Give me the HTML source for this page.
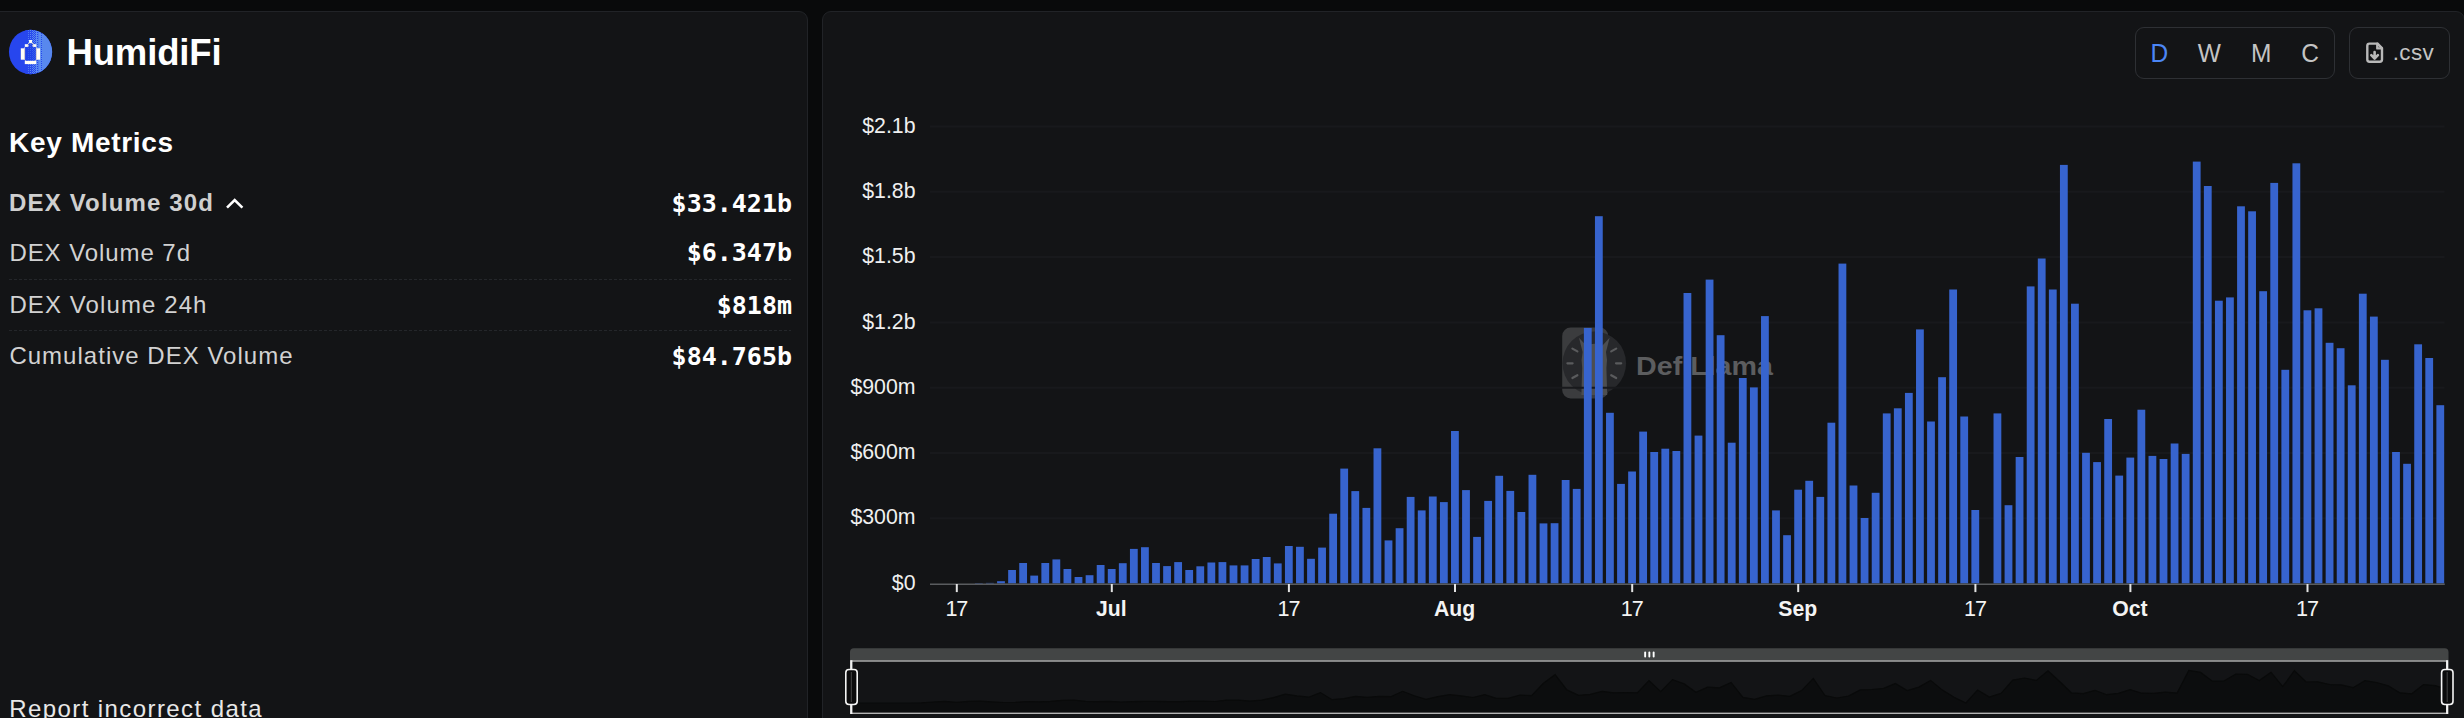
<!DOCTYPE html>
<html lang="en">
<head>
<meta charset="utf-8">
<title>HumidiFi - DefiLlama</title>
<style>
*{box-sizing:border-box;margin:0;padding:0}
html,body{width:2464px;height:718px;overflow:hidden;background:#090a0b;}
body{position:relative;font-family:"Liberation Sans",sans-serif;color:#fff;-webkit-font-smoothing:antialiased}
.panel{position:absolute;background:#131416;border:1.6px solid #212327;border-radius:9px}
#left{left:-20px;top:10.7px;width:828px;height:740px}
#right{left:821.8px;top:10.7px;width:1643px;height:740px}
.abs{position:absolute;white-space:nowrap;line-height:1}
#title{left:66.4px;top:35px;font-size:36.5px;font-weight:bold;color:#fff;letter-spacing:-0.12px}
#km{left:9.1px;top:128.6px;font-size:28px;font-weight:bold;color:#fff;letter-spacing:0.68px}
.lbl{left:9.4px;font-size:24px;color:#d2d2d2;letter-spacing:1px}
.lbl.b{font-weight:bold;color:#cfcfcf}
.val{right:1672px;font-family:"DejaVu Sans Mono","Liberation Mono",monospace;font-weight:bold;font-size:25px;color:#fff}
.sep{position:absolute;left:9px;width:782px;height:1.3px;background:repeating-linear-gradient(to right,#24262a 0,#24262a 3px,transparent 3px,transparent 5px)}
#report{left:9.3px;top:697.2px;font-size:24px;color:#e8e8e8;letter-spacing:1.41px}
#grp{position:absolute;left:2135px;top:27px;width:200px;height:52px;border:1.5px solid #2e3034;border-radius:9px}
#csv{position:absolute;left:2349px;top:27px;width:101px;height:52px;border:1.5px solid #2e3034;border-radius:9px}
.g{font-size:24.5px;color:#c4c4c4;top:41.4px;transform:translateX(-50%) scaleY(1.07)}
svg{position:absolute;left:0;top:0}
</style>
</head>
<body>
<div class="panel" id="left"></div>
<div class="panel" id="right"></div>

<!-- logo -->
<svg width="80" height="90" viewBox="0 0 80 90">
  <defs>
    <clipPath id="lc"><ellipse cx="30.55" cy="52" rx="21.6" ry="22.2"/></clipPath>
    <pattern id="d1" width="4" height="2" patternUnits="userSpaceOnUse"><rect width="4" height="2" fill="#2746ee"/><rect width="1" height="1" fill="#5a8cf0"/></pattern>
    <pattern id="d2" width="2" height="2" patternUnits="userSpaceOnUse"><rect width="2" height="2" fill="#2746ee"/><rect width="1" height="1" fill="#5a8cf0"/></pattern>
    <pattern id="d3" width="2" height="2" patternUnits="userSpaceOnUse"><rect width="2" height="2" fill="#2746ee"/><rect width="1" height="1" fill="#5a8cf0"/><rect x="1" y="1" width="1" height="1" fill="#5a8cf0"/></pattern>
    <pattern id="d4" width="2" height="2" patternUnits="userSpaceOnUse"><rect width="2" height="2" fill="#5a8cf0"/><rect x="1" width="1" height="1" fill="#2746ee"/></pattern>
    <pattern id="d5" width="4" height="2" patternUnits="userSpaceOnUse"><rect width="4" height="2" fill="#5a8cf0"/><rect x="1" y="1" width="1" height="1" fill="#2746ee"/></pattern>
  </defs>
  <ellipse cx="30.55" cy="52" rx="21.6" ry="22.2" fill="#2746ee"/>
  <g clip-path="url(#lc)">
    <rect x="25" y="28" width="3.4" height="48" fill="url(#d1)"/>
    <rect x="28.4" y="28" width="3.4" height="48" fill="url(#d2)"/>
    <rect x="31.8" y="28" width="3.4" height="48" fill="url(#d3)"/>
    <rect x="35.2" y="28" width="3.4" height="48" fill="url(#d4)"/>
    <rect x="38.6" y="28" width="3.4" height="48" fill="url(#d5)"/>
    <rect x="42" y="28" width="12" height="48" fill="#5888ee"/>
  </g>
  <path d="M24.2 47.5 L30.5 41.5 L36.8 47.5 V60.8 H24.2 Z" fill="#1c3ce6" opacity="0.55"/>
  <g fill="#fffdf8">
    <rect x="29.05" y="40" width="3" height="3.2"/>
    <rect x="24.8" y="44.2" width="3.1" height="2.7"/>
    <rect x="33.2" y="44.2" width="3.1" height="2.7"/>
    <rect x="20.8" y="48.3" width="3.3" height="11.4"/>
    <rect x="36.8" y="48.3" width="3.3" height="11.4"/>
    <rect x="24.8" y="60.8" width="11.4" height="3.3"/>
  </g>
  <path d="M29.6 42.6 L27 45 M31.6 42.6 L34.2 45 M24.6 47.4 V59.8 L25.6 60.6 M36.4 47.4 V59.8 L35.4 60.6 M27.6 46.6 L29 45.4 M33.5 46.6 L32.1 45.4" stroke="#f4e6cc" stroke-width="1" fill="none" opacity="0.9"/>
</svg>
<div class="abs" id="title">HumidiFi</div>
<div class="abs" id="km">Key Metrics</div>

<div class="abs lbl b" style="top:191.3px;letter-spacing:1.15px;left:9.1px">DEX Volume 30d</div>
<svg width="260" height="220" viewBox="0 0 260 220"><path d="M227 207.6 L234.7 200.1 L242.4 207.6" fill="none" stroke="#fff" stroke-width="2.6"/></svg>
<div class="abs val" style="top:190.8px">$33.421b</div>

<div class="abs lbl" style="top:240.9px;letter-spacing:0.93px">DEX Volume 7d</div>
<div class="abs val" style="top:240.2px">$6.347b</div>
<div class="sep" style="top:278.9px"></div>
<div class="abs lbl" style="top:292.8px;letter-spacing:1.1px">DEX Volume 24h</div>
<div class="abs val" style="top:292.5px">$818m</div>
<div class="sep" style="top:329.8px"></div>
<div class="abs lbl" style="top:344px;letter-spacing:1.02px">Cumulative DEX Volume</div>
<div class="abs val" style="top:343.6px">$84.765b</div>

<div class="abs" id="report">Report incorrect data</div>

<!-- chart controls -->
<div id="grp"></div>
<div id="csv"></div>
<div class="abs g" style="left:2159.4px;color:#4b86f5">D</div>
<div class="abs g" style="left:2209.2px">W</div>
<div class="abs g" style="left:2261.1px">M</div>
<div class="abs g" style="left:2310.1px">C</div>
<svg width="2464" height="100" viewBox="0 0 2464 100">
  <g fill="none" stroke="#b9b9b9" stroke-width="2.4" stroke-linejoin="round" stroke-linecap="round">
    <path d="M2377.5 43.6 H2369.5 Q2367.3 43.6 2367.3 45.8 V59.6 Q2367.3 61.8 2369.5 61.8 H2379.8 Q2382 61.8 2382 59.6 V48.2 Z"/>
    <path d="M2377.3 43.8 V48.4 H2381.8"/>
    <path d="M2374.6 52 V58.2 M2371.3 55.2 L2374.6 58.5 L2377.9 55.2" stroke-width="2.6"/>
  </g>
</svg>
<div class="abs" style="left:2392.8px;top:42.1px;font-size:22.4px;color:#c4c4c4;letter-spacing:0.35px">.csv</div>

<!-- chart -->
<svg width="2464" height="718" viewBox="0 0 2464 718" font-family="'Liberation Sans',sans-serif">
  <!-- watermark -->
  <g opacity="1">
    <rect x="1562.2" y="327.6" width="46" height="70.8" rx="8.5" fill="#3b3c3e"/>
    <circle cx="1594.3" cy="363.3" r="31.8" fill="#27282b"/>
    <path d="M1579 337.8 L1586.8 346.2 Q1594.3 341.5 1601.8 346.2 L1609.6 337.8 L1606 352 Q1607.8 360 1606.4 368 L1607.2 395 H1581.4 L1582.2 368 Q1580.8 360 1582.6 352 Z" fill="#4d4e50"/>
    <g stroke="#5a5b5d" stroke-width="2.2" stroke-linecap="round">
      <line x1="1567.4" y1="363.3" x2="1572.6" y2="363.3"/>
      <line x1="1616" y1="363.3" x2="1621.2" y2="363.3"/>
      <line x1="1572.4" y1="348.6" x2="1577.4" y2="351.4"/>
      <line x1="1616.2" y1="348.6" x2="1611.2" y2="351.4"/>
      <line x1="1572.4" y1="378" x2="1577.4" y2="375.2"/>
      <line x1="1616.2" y1="378" x2="1611.2" y2="375.2"/>
    </g>
    <text x="1636" y="374.6" font-size="26.5" font-weight="bold" fill="#5c5d5f" textLength="137" lengthAdjust="spacingAndGlyphs">DefiLlama</text>
  </g>
  <g stroke="#18191c" stroke-width="2">
<line x1="930" x2="2444.5" y1="518.3" y2="518.3"/>
<line x1="930" x2="2444.5" y1="453.0" y2="453.0"/>
<line x1="930" x2="2444.5" y1="387.7" y2="387.7"/>
<line x1="930" x2="2444.5" y1="322.4" y2="322.4"/>
<line x1="930" x2="2444.5" y1="257.1" y2="257.1"/>
<line x1="930" x2="2444.5" y1="191.8" y2="191.8"/>
<line x1="930" x2="2444.5" y1="126.5" y2="126.5"/>
  </g>
  <g fill="#3764ce" shape-rendering="auto">
<rect x="974.94" y="583.0" width="7.8" height="0.4"/>
<rect x="986.01" y="582.9" width="7.8" height="0.5"/>
<rect x="997.09" y="581.2" width="7.8" height="2.2"/>
<rect x="1008.16" y="570.0" width="7.8" height="13.4"/>
<rect x="1019.23" y="563.0" width="7.8" height="20.4"/>
<rect x="1030.30" y="575.6" width="7.8" height="7.8"/>
<rect x="1041.37" y="563.0" width="7.8" height="20.4"/>
<rect x="1052.44" y="559.4" width="7.8" height="24.0"/>
<rect x="1063.51" y="569.0" width="7.8" height="14.4"/>
<rect x="1074.59" y="577.0" width="7.8" height="6.4"/>
<rect x="1085.66" y="575.2" width="7.8" height="8.2"/>
<rect x="1096.73" y="565.0" width="7.8" height="18.4"/>
<rect x="1107.80" y="569.0" width="7.8" height="14.4"/>
<rect x="1118.87" y="563.2" width="7.8" height="20.2"/>
<rect x="1129.94" y="548.9" width="7.8" height="34.5"/>
<rect x="1141.02" y="547.2" width="7.8" height="36.2"/>
<rect x="1152.09" y="563.0" width="7.8" height="20.4"/>
<rect x="1163.16" y="566.1" width="7.8" height="17.3"/>
<rect x="1174.23" y="562.1" width="7.8" height="21.3"/>
<rect x="1185.30" y="570.0" width="7.8" height="13.4"/>
<rect x="1196.37" y="566.3" width="7.8" height="17.1"/>
<rect x="1207.44" y="562.5" width="7.8" height="20.9"/>
<rect x="1218.52" y="562.1" width="7.8" height="21.3"/>
<rect x="1229.59" y="565.4" width="7.8" height="18.0"/>
<rect x="1240.66" y="565.4" width="7.8" height="18.0"/>
<rect x="1251.73" y="559.0" width="7.8" height="24.4"/>
<rect x="1262.80" y="557.0" width="7.8" height="26.4"/>
<rect x="1273.87" y="563.4" width="7.8" height="20.0"/>
<rect x="1284.94" y="546.0" width="7.8" height="37.4"/>
<rect x="1296.02" y="546.8" width="7.8" height="36.6"/>
<rect x="1307.09" y="558.8" width="7.8" height="24.6"/>
<rect x="1318.16" y="547.6" width="7.8" height="35.8"/>
<rect x="1329.23" y="513.7" width="7.8" height="69.7"/>
<rect x="1340.30" y="468.6" width="7.8" height="114.8"/>
<rect x="1351.37" y="491.1" width="7.8" height="92.3"/>
<rect x="1362.45" y="507.9" width="7.8" height="75.5"/>
<rect x="1373.52" y="448.3" width="7.8" height="135.1"/>
<rect x="1384.59" y="540.4" width="7.8" height="43.0"/>
<rect x="1395.66" y="528.2" width="7.8" height="55.2"/>
<rect x="1406.73" y="496.9" width="7.8" height="86.5"/>
<rect x="1417.80" y="510.4" width="7.8" height="73.0"/>
<rect x="1428.87" y="496.5" width="7.8" height="86.9"/>
<rect x="1439.95" y="502.1" width="7.8" height="81.3"/>
<rect x="1451.02" y="431.0" width="7.8" height="152.4"/>
<rect x="1462.09" y="490.1" width="7.8" height="93.3"/>
<rect x="1473.16" y="536.9" width="7.8" height="46.5"/>
<rect x="1484.23" y="500.9" width="7.8" height="82.5"/>
<rect x="1495.30" y="475.8" width="7.8" height="107.6"/>
<rect x="1506.38" y="490.9" width="7.8" height="92.5"/>
<rect x="1517.45" y="512.0" width="7.8" height="71.4"/>
<rect x="1528.52" y="474.8" width="7.8" height="108.6"/>
<rect x="1539.59" y="523.4" width="7.8" height="60.0"/>
<rect x="1550.66" y="523.2" width="7.8" height="60.2"/>
<rect x="1561.73" y="480.0" width="7.8" height="103.4"/>
<rect x="1572.80" y="488.9" width="7.8" height="94.5"/>
<rect x="1583.88" y="327.9" width="7.8" height="255.5"/>
<rect x="1594.95" y="216.2" width="7.8" height="367.2"/>
<rect x="1606.02" y="412.8" width="7.8" height="170.6"/>
<rect x="1617.09" y="483.9" width="7.8" height="99.5"/>
<rect x="1628.16" y="471.5" width="7.8" height="111.9"/>
<rect x="1639.23" y="431.6" width="7.8" height="151.8"/>
<rect x="1650.30" y="452.0" width="7.8" height="131.4"/>
<rect x="1661.38" y="448.7" width="7.8" height="134.7"/>
<rect x="1672.45" y="451.0" width="7.8" height="132.4"/>
<rect x="1683.52" y="293.0" width="7.8" height="290.4"/>
<rect x="1694.59" y="435.6" width="7.8" height="147.8"/>
<rect x="1705.66" y="279.6" width="7.8" height="303.8"/>
<rect x="1716.73" y="335.2" width="7.8" height="248.2"/>
<rect x="1727.80" y="442.7" width="7.8" height="140.7"/>
<rect x="1738.88" y="378.0" width="7.8" height="205.4"/>
<rect x="1749.95" y="387.4" width="7.8" height="196.0"/>
<rect x="1761.02" y="316.1" width="7.8" height="267.3"/>
<rect x="1772.09" y="510.4" width="7.8" height="73.0"/>
<rect x="1783.16" y="535.2" width="7.8" height="48.2"/>
<rect x="1794.23" y="489.7" width="7.8" height="93.7"/>
<rect x="1805.31" y="480.8" width="7.8" height="102.6"/>
<rect x="1816.38" y="496.9" width="7.8" height="86.5"/>
<rect x="1827.45" y="422.7" width="7.8" height="160.7"/>
<rect x="1838.52" y="263.6" width="7.8" height="319.8"/>
<rect x="1849.59" y="485.5" width="7.8" height="97.9"/>
<rect x="1860.66" y="518.0" width="7.8" height="65.4"/>
<rect x="1871.73" y="492.8" width="7.8" height="90.6"/>
<rect x="1882.81" y="413.4" width="7.8" height="170.0"/>
<rect x="1893.88" y="408.3" width="7.8" height="175.1"/>
<rect x="1904.95" y="392.9" width="7.8" height="190.5"/>
<rect x="1916.02" y="329.4" width="7.8" height="254.0"/>
<rect x="1927.09" y="421.5" width="7.8" height="161.9"/>
<rect x="1938.16" y="377.2" width="7.8" height="206.2"/>
<rect x="1949.24" y="289.5" width="7.8" height="293.9"/>
<rect x="1960.31" y="416.5" width="7.8" height="166.9"/>
<rect x="1971.38" y="510.0" width="7.8" height="73.4"/>
<rect x="1993.52" y="413.4" width="7.8" height="170.0"/>
<rect x="2004.59" y="505.2" width="7.8" height="78.2"/>
<rect x="2015.66" y="457.0" width="7.8" height="126.4"/>
<rect x="2026.74" y="286.4" width="7.8" height="297.0"/>
<rect x="2037.81" y="258.5" width="7.8" height="324.9"/>
<rect x="2048.88" y="289.5" width="7.8" height="293.9"/>
<rect x="2059.95" y="164.9" width="7.8" height="418.5"/>
<rect x="2071.02" y="303.7" width="7.8" height="279.7"/>
<rect x="2082.09" y="452.8" width="7.8" height="130.6"/>
<rect x="2093.16" y="462.1" width="7.8" height="121.3"/>
<rect x="2104.24" y="419.0" width="7.8" height="164.4"/>
<rect x="2115.31" y="475.6" width="7.8" height="107.8"/>
<rect x="2126.38" y="457.6" width="7.8" height="125.8"/>
<rect x="2137.45" y="409.7" width="7.8" height="173.7"/>
<rect x="2148.52" y="455.9" width="7.8" height="127.5"/>
<rect x="2159.59" y="459.0" width="7.8" height="124.4"/>
<rect x="2170.66" y="443.5" width="7.8" height="139.9"/>
<rect x="2181.74" y="453.9" width="7.8" height="129.5"/>
<rect x="2192.81" y="161.6" width="7.8" height="421.8"/>
<rect x="2203.88" y="186.0" width="7.8" height="397.4"/>
<rect x="2214.95" y="300.7" width="7.8" height="282.7"/>
<rect x="2226.02" y="297.4" width="7.8" height="286.0"/>
<rect x="2237.09" y="206.3" width="7.8" height="377.1"/>
<rect x="2248.17" y="211.3" width="7.8" height="372.1"/>
<rect x="2259.24" y="291.2" width="7.8" height="292.2"/>
<rect x="2270.31" y="182.9" width="7.8" height="400.5"/>
<rect x="2281.38" y="369.8" width="7.8" height="213.6"/>
<rect x="2292.45" y="163.3" width="7.8" height="420.1"/>
<rect x="2303.52" y="310.3" width="7.8" height="273.1"/>
<rect x="2314.59" y="308.3" width="7.8" height="275.1"/>
<rect x="2325.67" y="342.8" width="7.8" height="240.6"/>
<rect x="2336.74" y="348.2" width="7.8" height="235.2"/>
<rect x="2347.81" y="385.3" width="7.8" height="198.1"/>
<rect x="2358.88" y="293.7" width="7.8" height="289.7"/>
<rect x="2369.95" y="316.6" width="7.8" height="266.8"/>
<rect x="2381.02" y="359.8" width="7.8" height="223.6"/>
<rect x="2392.09" y="452.0" width="7.8" height="131.4"/>
<rect x="2403.17" y="463.8" width="7.8" height="119.6"/>
<rect x="2414.24" y="344.3" width="7.8" height="239.1"/>
<rect x="2425.31" y="358.0" width="7.8" height="225.4"/>
<rect x="2436.38" y="405.2" width="7.8" height="178.2"/>
  </g>
  <line x1="930" x2="2444.8" y1="584.3" y2="584.3" stroke="#5a5c5f" stroke-width="1.4"/>
  <g stroke="#e3e3e3" stroke-width="2">
<line x1="956.8" x2="956.8" y1="584" y2="592.1"/>
<line x1="1111.8" x2="1111.8" y1="584" y2="592.1"/>
<line x1="1288.9" x2="1288.9" y1="584" y2="592.1"/>
<line x1="1455.0" x2="1455.0" y1="584" y2="592.1"/>
<line x1="1632.2" x2="1632.2" y1="584" y2="592.1"/>
<line x1="1798.2" x2="1798.2" y1="584" y2="592.1"/>
<line x1="1975.4" x2="1975.4" y1="584" y2="592.1"/>
<line x1="2130.4" x2="2130.4" y1="584" y2="592.1"/>
<line x1="2307.5" x2="2307.5" y1="584" y2="592.1"/>
  </g>
  <g font-size="21.3" fill="#f0f0f0">
<text x="915.5" y="589.7" text-anchor="end">$0</text>
<text x="915.5" y="524.4" text-anchor="end">$300m</text>
<text x="915.5" y="459.1" text-anchor="end">$600m</text>
<text x="915.5" y="393.8" text-anchor="end">$900m</text>
<text x="915.5" y="328.5" text-anchor="end">$1.2b</text>
<text x="915.5" y="263.2" text-anchor="end">$1.5b</text>
<text x="915.5" y="197.9" text-anchor="end">$1.8b</text>
<text x="915.5" y="132.6" text-anchor="end">$2.1b</text>
  </g>
  <g font-size="21.6" fill="#f4f4f4">
<text x="956.3" y="616" text-anchor="middle" letter-spacing="-1.1">17</text>
<text x="1111.4" y="616" text-anchor="middle" font-weight="bold" font-size="21.2">Jul</text>
<text x="1288.4" y="616" text-anchor="middle" letter-spacing="-1.1">17</text>
<text x="1454.6" y="616" text-anchor="middle" font-weight="bold" font-size="21.2">Aug</text>
<text x="1631.7" y="616" text-anchor="middle" letter-spacing="-1.1">17</text>
<text x="1797.8" y="616" text-anchor="middle" font-weight="bold" font-size="21.2">Sep</text>
<text x="1974.9" y="616" text-anchor="middle" letter-spacing="-1.1">17</text>
<text x="2130.0" y="616" text-anchor="middle" font-weight="bold" font-size="21.2">Oct</text>
<text x="2307.0" y="616" text-anchor="middle" letter-spacing="-1.1">17</text>
  </g>

  <!-- slider -->
  <path d="M850 660.5 V652 Q850 648.2 853.8 648.2 H2444.7 Q2448.5 648.2 2448.5 652 V660.5 Z" fill="#434545"/>
  <g fill="#fff">
    <rect x="1644.2" y="651.6" width="1.9" height="5.9" rx="0.9"/>
    <rect x="1648.4" y="651.6" width="1.9" height="5.9" rx="0.9"/>
    <rect x="1652.7" y="651.6" width="1.9" height="5.9" rx="0.9"/>
  </g>
  <polygon points="851.0,703.0 862.7,703.0 874.5,703.0 886.2,703.0 897.9,703.0 909.7,703.0 921.4,702.8 933.1,702.0 944.9,701.4 956.6,702.4 968.4,701.4 980.1,701.2 991.8,701.9 1003.6,702.5 1015.3,702.4 1027.0,701.6 1038.8,701.9 1050.5,701.4 1062.2,700.3 1074.0,700.2 1085.7,701.4 1097.4,701.7 1109.2,701.4 1120.9,702.0 1132.6,701.7 1144.4,701.4 1156.1,701.4 1167.9,701.6 1179.6,701.6 1191.3,701.1 1203.1,701.0 1214.8,701.5 1226.5,700.1 1238.3,700.2 1250.0,701.1 1261.7,700.2 1273.5,697.6 1285.2,694.2 1296.9,695.9 1308.7,697.2 1320.4,692.6 1332.1,699.7 1343.9,698.7 1355.6,696.3 1367.4,697.4 1379.1,696.3 1390.8,696.7 1402.6,691.3 1414.3,695.8 1426.0,699.4 1437.8,696.6 1449.5,694.7 1461.2,695.9 1473.0,697.5 1484.7,694.6 1496.4,698.4 1508.2,698.4 1519.9,695.0 1531.6,695.7 1543.4,683.3 1555.1,674.7 1566.9,689.9 1578.6,695.3 1590.3,694.4 1602.1,691.3 1613.8,692.9 1625.5,692.6 1637.3,692.8 1649.0,680.6 1660.7,691.6 1672.5,679.6 1684.2,683.9 1695.9,692.2 1707.7,687.2 1719.4,687.9 1731.1,682.4 1742.9,697.4 1754.6,699.3 1766.4,695.8 1778.1,695.1 1789.8,696.3 1801.6,690.6 1813.3,678.4 1825.0,695.5 1836.8,698.0 1848.5,696.0 1860.2,689.9 1872.0,689.5 1883.7,688.3 1895.4,683.4 1907.2,690.5 1918.9,687.1 1930.6,680.4 1942.4,690.1 1954.1,697.3 1965.9,703.0 1977.6,689.9 1989.3,697.0 2001.1,693.3 2012.8,680.1 2024.5,678.0 2036.3,680.4 2048.0,670.8 2059.7,681.5 2071.5,692.9 2083.2,693.7 2094.9,690.3 2106.7,694.7 2118.4,693.3 2130.1,689.6 2141.9,693.2 2153.6,693.4 2165.4,692.2 2177.1,693.0 2188.8,670.5 2200.6,672.4 2212.3,681.2 2224.0,681.0 2235.8,674.0 2247.5,674.3 2259.2,680.5 2271.0,672.2 2282.7,686.6 2294.4,670.7 2306.2,682.0 2317.9,681.8 2329.6,684.5 2341.4,684.9 2353.1,687.7 2364.9,680.7 2376.6,682.5 2388.3,685.8 2400.1,692.9 2411.8,693.8 2423.5,684.6 2435.3,685.6 2447.0,689.3 2447.0,713 851.0,713" fill="#0c0d0e"/>
  <polyline points="851.0,703.0 862.7,703.0 874.5,703.0 886.2,703.0 897.9,703.0 909.7,703.0 921.4,702.8 933.1,702.0 944.9,701.4 956.6,702.4 968.4,701.4 980.1,701.2 991.8,701.9 1003.6,702.5 1015.3,702.4 1027.0,701.6 1038.8,701.9 1050.5,701.4 1062.2,700.3 1074.0,700.2 1085.7,701.4 1097.4,701.7 1109.2,701.4 1120.9,702.0 1132.6,701.7 1144.4,701.4 1156.1,701.4 1167.9,701.6 1179.6,701.6 1191.3,701.1 1203.1,701.0 1214.8,701.5 1226.5,700.1 1238.3,700.2 1250.0,701.1 1261.7,700.2 1273.5,697.6 1285.2,694.2 1296.9,695.9 1308.7,697.2 1320.4,692.6 1332.1,699.7 1343.9,698.7 1355.6,696.3 1367.4,697.4 1379.1,696.3 1390.8,696.7 1402.6,691.3 1414.3,695.8 1426.0,699.4 1437.8,696.6 1449.5,694.7 1461.2,695.9 1473.0,697.5 1484.7,694.6 1496.4,698.4 1508.2,698.4 1519.9,695.0 1531.6,695.7 1543.4,683.3 1555.1,674.7 1566.9,689.9 1578.6,695.3 1590.3,694.4 1602.1,691.3 1613.8,692.9 1625.5,692.6 1637.3,692.8 1649.0,680.6 1660.7,691.6 1672.5,679.6 1684.2,683.9 1695.9,692.2 1707.7,687.2 1719.4,687.9 1731.1,682.4 1742.9,697.4 1754.6,699.3 1766.4,695.8 1778.1,695.1 1789.8,696.3 1801.6,690.6 1813.3,678.4 1825.0,695.5 1836.8,698.0 1848.5,696.0 1860.2,689.9 1872.0,689.5 1883.7,688.3 1895.4,683.4 1907.2,690.5 1918.9,687.1 1930.6,680.4 1942.4,690.1 1954.1,697.3 1965.9,703.0 1977.6,689.9 1989.3,697.0 2001.1,693.3 2012.8,680.1 2024.5,678.0 2036.3,680.4 2048.0,670.8 2059.7,681.5 2071.5,692.9 2083.2,693.7 2094.9,690.3 2106.7,694.7 2118.4,693.3 2130.1,689.6 2141.9,693.2 2153.6,693.4 2165.4,692.2 2177.1,693.0 2188.8,670.5 2200.6,672.4 2212.3,681.2 2224.0,681.0 2235.8,674.0 2247.5,674.3 2259.2,680.5 2271.0,672.2 2282.7,686.6 2294.4,670.7 2306.2,682.0 2317.9,681.8 2329.6,684.5 2341.4,684.9 2353.1,687.7 2364.9,680.7 2376.6,682.5 2388.3,685.8 2400.1,692.9 2411.8,693.8 2423.5,684.6 2435.3,685.6 2447.0,689.3" fill="none" stroke="#090a0a" stroke-width="1.2"/>
  <rect x="851" y="661" width="1596" height="52.3" fill="none" stroke="#b4b4b4" stroke-width="1.4"/>
  <line x1="851.3" x2="851.3" y1="660.2" y2="714" stroke="#f2f2f2" stroke-width="2.2"/>
  <line x1="2447.2" x2="2447.2" y1="660.2" y2="714" stroke="#f2f2f2" stroke-width="2.2"/>
  <rect x="845.8" y="669.5" width="11.4" height="35" rx="3.2" fill="#0b0b0c" stroke="#f4f4f4" stroke-width="1.6"/>
  <rect x="2441.6" y="669.5" width="11.4" height="35" rx="3.2" fill="#0b0b0c" stroke="#f4f4f4" stroke-width="1.6"/>
  <line x1="851.3" x2="851.3" y1="672" y2="702" stroke="#555" stroke-width="0.8"/>
  <line x1="2447.2" x2="2447.2" y1="672" y2="702" stroke="#555" stroke-width="0.8"/>
</svg>
</body>
</html>
